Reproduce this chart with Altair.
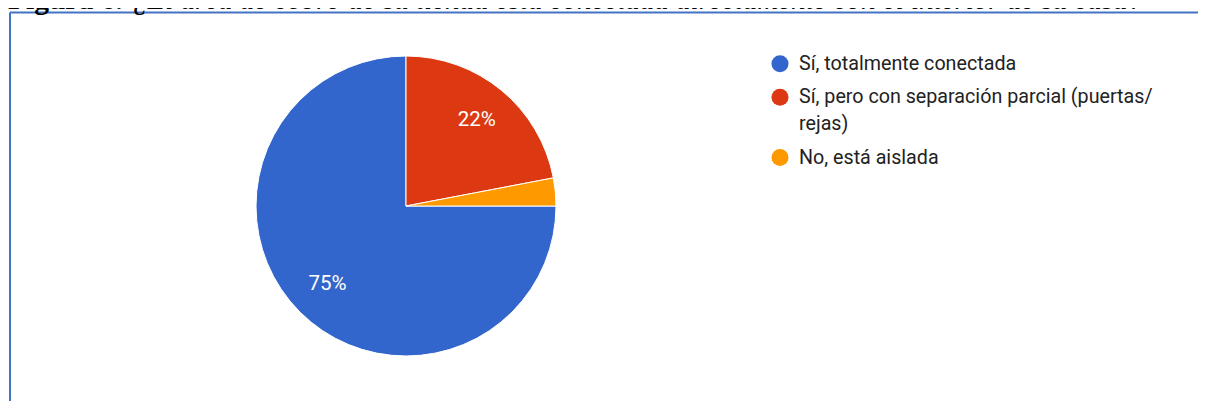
import altair as alt
import pandas as pd

# ---- data -------------------------------------------------------------
categories = [
    "Sí, totalmente conectada",
    "Sí, pero con separación parcial (puertas/rejas)",
    "No, está aislada",
]
percents = [75, 22, 3]
slice_order = [3, 1, 2]          # clockwise from 12 o'clock: red, orange, blue
colors = ["#3366cc", "#dc3912", "#ff9900"]
legend_lines = [
    ["Sí, totalmente conectada"],
    ["Sí, pero con separación parcial (puertas/", "rejas)"],
    ["No, está aislada"],
]

title_bold = "Figura 6."
title_rest = "¿El área de cobro de su tienda está conectada directamente con el interior de su casa?"

df = pd.DataFrame({"cat": categories, "pct": percents, "ord": slice_order})
# small slices get no in-slice label
df["lab"] = [f"{p}%" if p >= 5 else "" for p in percents]

W, H = 1190, 393
CX, CY, R = 398, 198, 150

# legend layout (row positions derived from the number of wrapped lines)
LEG_TOP, ENTRY_GAP, LINE_GAP = 55.8, 33.4, 27
pos, acc = [], LEG_TOP
for lines in legend_lines:
    pos.append(acc)
    acc += ENTRY_GAP + LINE_GAP * (len(lines) - 1)
leg = pd.DataFrame({"cat": categories, "ly": pos, "lines": legend_lines})

color_scale = alt.Scale(domain=categories, range=colors)
yscale = alt.Scale(domain=[0, H], range=[0, H])

base = alt.Chart(df).encode(
    theta=alt.Theta("pct:Q", stack=True),
    order=alt.Order("ord:Q"),
    x=alt.value(CX),
    y=alt.value(CY),
)

pie = base.mark_arc(stroke="white", strokeWidth=1, outerRadius=R).encode(
    color=alt.Color("cat:N", scale=color_scale, legend=None)
)

labels = base.mark_text(
    radius=111, color="white", font="Roboto", fontSize=20.5
).encode(text="lab:N")

leg_dots = alt.Chart(leg).mark_point(filled=True, shape="circle", size=290, opacity=1).encode(
    x=alt.value(772),
    y=alt.Y("ly:Q", scale=yscale, axis=None),
    color=alt.Color("cat:N", scale=color_scale, legend=None),
)
leg_text = alt.Chart(leg).mark_text(
    align="left", baseline="alphabetic", dy=6, lineHeight=LINE_GAP,
    font="Roboto", fontSize=19.7, color="#222222"
).encode(
    x=alt.value(791),
    y=alt.Y("ly:Q", scale=yscale, axis=None),
    text="lines",
)

one = alt.Data(values=[{"k": 0}])
border_top = alt.Chart(one).mark_rule(color="#4472c4", strokeWidth=2).encode(
    x=alt.value(2), x2=alt.value(W), y=alt.value(4.5)
)
border_left = alt.Chart(one).mark_rule(color="#4472c4", strokeWidth=2).encode(
    x=alt.value(2), y=alt.value(4.5), y2=alt.value(H)
)

t1 = alt.Chart(one).mark_text(
    text=title_bold, font="Liberation Serif", fontSize=29.5, fontWeight="bold",
    align="left", baseline="alphabetic", color="black"
).encode(x=alt.value(0), y=alt.value(1))
t2 = alt.Chart(one).mark_text(
    text=title_rest, font="Liberation Serif", fontSize=29, fontStyle="italic",
    align="left", baseline="alphabetic", color="black"
).encode(x=alt.value(125), y=alt.value(1))

chart = (
    alt.layer(pie, labels, leg_dots, leg_text, border_top, border_left, t1, t2)
    .resolve_scale(y="shared")
    .properties(width=W, height=H, autosize=alt.AutoSizeParams(type="none"), padding=0)
    .configure_view(strokeWidth=0)
)

chart.save("out.html", embed_options={"renderer": "svg", "actions": False})
